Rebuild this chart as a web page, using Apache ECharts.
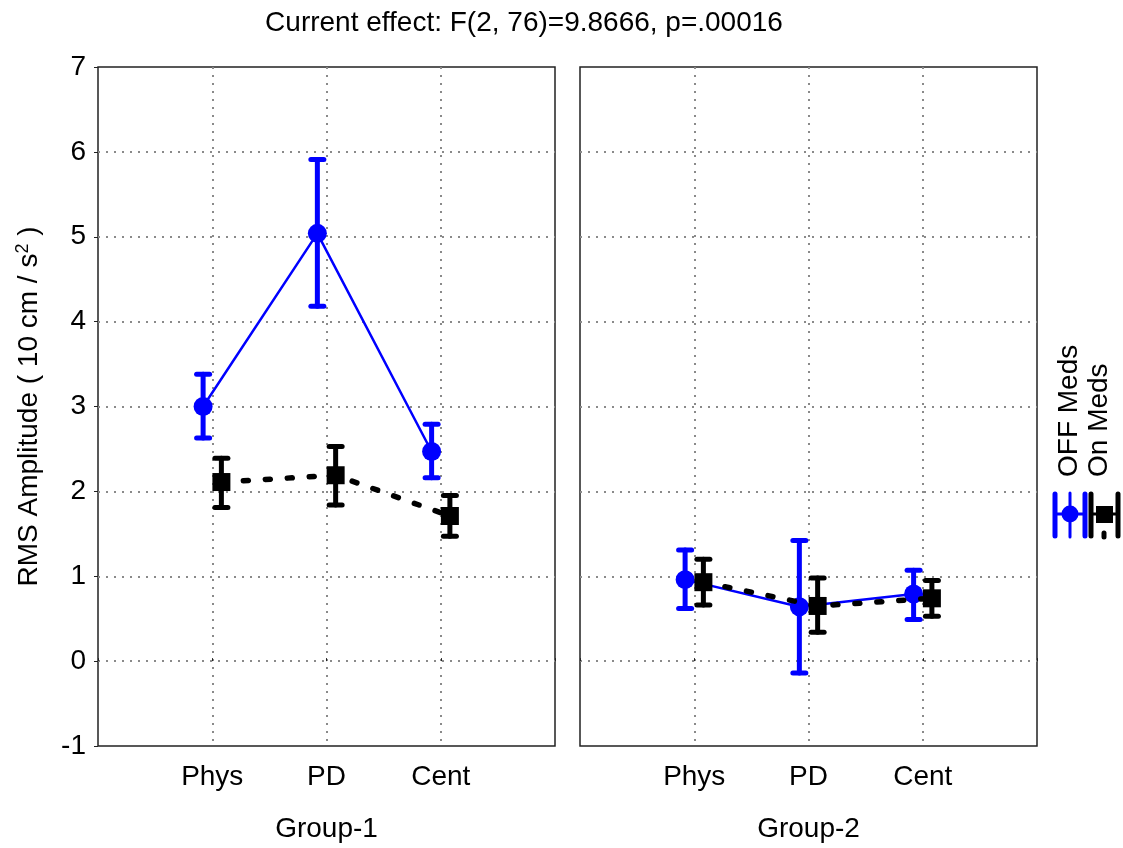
<!DOCTYPE html>
<html><head><meta charset="utf-8">
<script src="https://cdn.jsdelivr.net/npm/echarts@6/dist/echarts.min.js"></script>
<style>html,body{margin:0;padding:0;background:#fff}#c{width:1123px;height:848px}</style>
</head><body><div id="c"></div>
<script>
// ---------- data ----------
const categories = ['Phys', 'PD', 'Cent'];
const groups = ['Group-1', 'Group-2'];
const seriesNames = ['OFF Meds', 'On Meds'];
const titleText = 'Current effect: F(2, 76)=9.8666, p=.00016';
const yTicks = [-1, 0, 1, 2, 3, 4, 5, 6, 7];

// Group-1
const off1Mean = [3.00, 5.04, 2.47];
const off1Low  = [2.63, 4.18, 2.16];
const off1High = [3.38, 5.91, 2.79];
const on1Mean  = [2.11, 2.19, 1.71];
const on1Low   = [1.81, 1.84, 1.47];
const on1High  = [2.39, 2.53, 1.95];
// Group-2
const off2Mean = [0.96, 0.64, 0.79];
const off2Low  = [0.62, -0.14, 0.49];
const off2High = [1.31, 1.42, 1.07];
const on2Mean  = [0.93, 0.65, 0.74];
const on2Low   = [0.66, 0.34, 0.53];
const on2High  = [1.20, 0.98, 0.95];

// ---------- style ----------
const FONT = 'Liberation Sans, Arial, sans-serif';
const FS = 28;
const BLUE = '#0000ff';
const BLACK = '#000000';
const DODGE = 0.08; // horizontal dodge in axis units

const chart = echarts.init(document.getElementById('c'));

function errRender(color, stemW, capW) {
  return function (params, api) {
    const x = api.value(0), lo = api.value(1), hi = api.value(2);
    const p1 = api.coord([x, lo]), p2 = api.coord([x, hi]);
    const style = { stroke: color, lineWidth: stemW, lineCap: 'round' };
    return {
      type: 'group', children: [
        { type: 'line', shape: { x1: p1[0], y1: p1[1], x2: p2[0], y2: p2[1] }, style: style },
        { type: 'line', shape: { x1: p1[0] - capW / 2, y1: p1[1], x2: p1[0] + capW / 2, y2: p1[1] }, style: style },
        { type: 'line', shape: { x1: p2[0] - capW / 2, y1: p2[1], x2: p2[0] + capW / 2, y2: p2[1] }, style: style }
      ]
    };
  };
}

function errData(lo, hi, off) {
  return lo.map((v, i) => [i + 1 + off, v, hi[i]]);
}
function lineData(mean, off) {
  return mean.map((v, i) => [i + 1 + off, v]);
}

function xAxisFor(idx, name) {
  return {
    type: 'value', gridIndex: idx, min: 0, max: 4, interval: 1,
    name: name, nameLocation: 'middle', nameGap: 69,
    nameTextStyle: { fontFamily: FONT, fontSize: FS, color: '#000' },
    axisLine: { show: false },
    axisTick: { show: true, inside: true, length: 3, lineStyle: { color: '#222' } },
    axisLabel: {
      fontFamily: FONT, fontSize: FS, color: '#000', margin: 17,
      formatter: v => (v >= 1 && v <= categories.length) ? categories[v - 1] : ''
    },
    splitLine: { show: true, showMinLine: false, showMaxLine: false,
      lineStyle: { color: '#8a8a8a', width: 2, type: [2, 6] } }
  };
}
function yAxisFor(idx, showLabels) {
  return {
    type: 'value', gridIndex: idx, min: yTicks[0], max: yTicks[yTicks.length - 1], interval: 1,
    name: showLabels ? '{n|RMS Amplitude ( 10 cm / s}{s|2}{n| )}' : '',
    nameLocation: 'middle', nameRotate: 90, nameGap: 54,
    nameTextStyle: {
      fontFamily: FONT, fontSize: FS, color: '#000',
      rich: {
        n: { fontFamily: FONT, fontSize: FS, color: '#000' },
        s: { fontFamily: FONT, fontSize: 18, color: '#000', verticalAlign: 'top', padding: [0, 0, 12, 0] }
      }
    },
    axisLine: { show: false },
    axisTick: { show: showLabels, inside: false, length: 4, lineStyle: { color: '#222' } },
    axisLabel: { show: showLabels, fontFamily: FONT, fontSize: FS, color: '#000', margin: 12,
      formatter: v => yTicks.includes(v) ? String(v) : '' },
    splitLine: { show: true, showMinLine: false, showMaxLine: false,
      lineStyle: { color: '#8a8a8a', width: 2, type: [2, 6] } }
  };
}

const panels = [
  { off: [off1Mean, off1Low, off1High], on: [on1Mean, on1Low, on1High] },
  { off: [off2Mean, off2Low, off2High], on: [on2Mean, on2Low, on2High] }
];

const series = [];
panels.forEach((p, gi) => {
  series.push({
    type: 'custom', name: seriesNames[0], xAxisIndex: gi, yAxisIndex: gi, z: 3,
    renderItem: errRender(BLUE, 5, 13), encode: { x: 0, y: [1, 2] },
    data: errData(p.off[1], p.off[2], -DODGE)
  });
  series.push({
    type: 'line', name: seriesNames[0], xAxisIndex: gi, yAxisIndex: gi, z: 4,
    data: lineData(p.off[0], -DODGE),
    symbol: 'circle', symbolSize: 19,
    itemStyle: { color: BLUE },
    lineStyle: { color: BLUE, width: 2.5 },
    emphasis: { disabled: true }, animation: false
  });
  series.push({
    type: 'custom', name: seriesNames[1], xAxisIndex: gi, yAxisIndex: gi, z: 5,
    renderItem: errRender(BLACK, 5, 13), encode: { x: 0, y: [1, 2] },
    data: errData(p.on[1], p.on[2], DODGE)
  });
  series.push({
    type: 'line', name: seriesNames[1], xAxisIndex: gi, yAxisIndex: gi, z: 6,
    data: lineData(p.on[0], DODGE),
    symbol: 'rect', symbolSize: 18,
    itemStyle: { color: BLACK },
    lineStyle: { color: BLACK, width: 5.5, type: [5, 17], cap: 'round' },
    emphasis: { disabled: true }, animation: false
  });
});

const lgText = (txt, x) => ({
  type: 'text', x: x, y: 477, rotation: Math.PI / 2,
  style: { text: txt, fontFamily: FONT, fontSize: FS, fill: '#000', textAlign: 'left', textVerticalAlign: 'middle' }
});
const ln = (x1, y1, x2, y2, c, w) => ({ type: 'line', shape: { x1, y1, x2, y2 }, style: { stroke: c, lineWidth: w, lineCap: 'round' } });

chart.setOption({
  animation: false,
  backgroundColor: '#fff',
  grid: [
    { left: 98, top: 67, width: 457, height: 681, show: true, borderColor: '#222', borderWidth: 1.5, backgroundColor: 'transparent' },
    { left: 580, top: 67, width: 457, height: 681, show: true, borderColor: '#222', borderWidth: 1.5, backgroundColor: 'transparent' }
  ],
  xAxis: [xAxisFor(0, groups[0]), xAxisFor(1, groups[1])],
  yAxis: [yAxisFor(0, true), yAxisFor(1, false)],
  series: series,
  graphic: [
    { type: 'text', x: 524, y: 23, style: { text: titleText, fontFamily: FONT, fontSize: FS, fill: '#000', textAlign: 'center', textVerticalAlign: 'middle' } },
    lgText(seriesNames[0], 1069),
    lgText(seriesNames[1], 1099),
    // OFF legend icon
    ln(1055, 494, 1055, 536, BLUE, 5),
    ln(1085, 494, 1085, 536, BLUE, 5),
    ln(1055, 514, 1085, 514, BLUE, 3),
    ln(1070, 493, 1070, 537, BLUE, 3),
    { type: 'circle', shape: { cx: 1070, cy: 514, r: 8.5 }, style: { fill: BLUE } },
    // On legend icon
    ln(1091, 494, 1091, 536, BLACK, 5),
    ln(1118, 494, 1118, 536, BLACK, 5),
    ln(1091, 514, 1118, 514, BLACK, 3),
    ln(1104, 533, 1104, 537, BLACK, 5),
    { type: 'rect', shape: { x: 1096, y: 506, width: 17, height: 17 }, style: { fill: BLACK } }
  ]
});
</script>
</body></html>
